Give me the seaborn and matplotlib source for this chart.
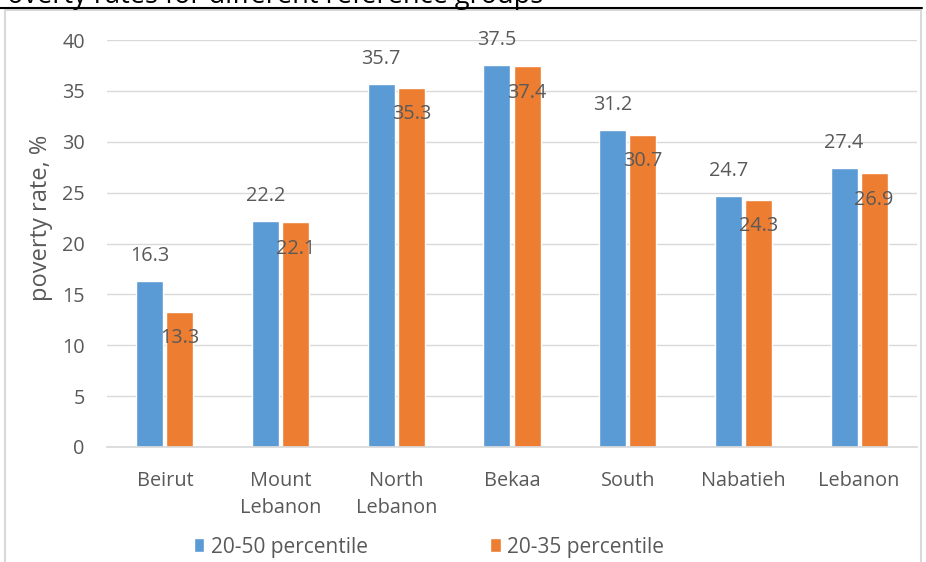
import matplotlib
matplotlib.use("Agg")
import matplotlib.pyplot as plt
import seaborn as sns
import pandas as pd
from matplotlib.patches import Rectangle
from matplotlib.lines import Line2D

regions = ["Beirut", "Mount\nLebanon", "North\nLebanon", "Bekaa", "South", "Nabatieh", "Lebanon"]
rate_20_50 = [16.3, 22.2, 35.7, 37.5, 31.2, 24.7, 27.4]
rate_20_35 = [13.3, 22.1, 35.3, 37.4, 30.7, 24.3, 26.9]
series_names = ["20-50 percentile", "20-35 percentile"]
y_ticks = [0, 5, 10, 15, 20, 25, 30, 35, 40]

df = pd.DataFrame({
    "region": regions * 2,
    "rate": rate_20_50 + rate_20_35,
    "group": [series_names[0]] * len(regions) + [series_names[1]] * len(regions),
})

sns.set_theme(style="white")
plt.rcParams["font.family"] = ["Open Sans", "DejaVu Sans"]
text_color = "#595959"
fs = 14.3

fig = plt.figure(figsize=(9.26, 5.62), dpi=100)
ax = fig.add_axes([107 / 926, 1 - 447 / 562, (917 - 107) / 926, (447 - 40) / 562])

palette = {series_names[0]: "#5B9BD5", series_names[1]: "#ED7D31"}
sns.barplot(data=df, x="region", y="rate", hue="group", palette=palette,
            width=0.52, gap=0.1, saturation=1, ax=ax, legend=True, errorbar=None)

ax.set_ylim(0, 40)
ax.set_yticks(y_ticks)
ax.set_xlim(-0.5, len(regions) - 0.5)
ax.grid(axis="y", color="#D9D9D9", linewidth=1)
ax.set_axisbelow(True)
for s in ["top", "right", "left"]:
    ax.spines[s].set_visible(False)
ax.spines["bottom"].set_color("#D9D9D9")
ax.tick_params(axis="both", colors=text_color, labelsize=fs, length=0)
ax.tick_params(axis="x", pad=17)
for lbl in ax.get_xticklabels():
    lbl.set_linespacing(1.5)
ax.tick_params(axis="y", pad=16)
ax.set_xlabel("")
ax.set_ylabel("poverty rate, %", color=text_color, fontsize=17)
ax.yaxis.set_label_coords((53 - 107) / 810, (447 - 218) / 407)

# value labels: first series above its bar, second series just inside the top
for idx, cont in enumerate(ax.containers[:2]):
    for bar in cont:
        h = bar.get_height()
        dy = 18 if idx == 0 else -19
        ax.annotate(f"{h:.1f}", (bar.get_x() + bar.get_width() / 2, h),
                    xytext=(0, dy), textcoords="offset points",
                    ha="center", va="center", color=text_color, fontsize=fs)

leg = ax.legend(loc="center", bbox_to_anchor=((429 - 107) / 810, -(547 - 447) / 407),
                ncol=2, frameon=False, fontsize=15, handlelength=0.5, handleheight=0.65,
                handletextpad=0.3, columnspacing=5.9)
for t in leg.get_texts():
    t.set_color(text_color)

# outer frame and title band
fig.patches.append(Rectangle((5 / 926, -0.1), (921 - 5) / 926, 1.1 - 10 / 562,
                             transform=fig.transFigure, fill=False,
                             edgecolor="#D9D9D9", linewidth=1.5))
fig.lines.append(Line2D([0, 922 / 926], [1 - 8 / 562, 1 - 8 / 562],
                        transform=fig.transFigure, color="black", linewidth=1.5))
fig.text(-9 / 926, 1 - 3 / 562, "Poverty rates for different reference groups",
         ha="left", va="baseline", fontsize=19.5, color="black")

fig.savefig("out.png", dpi=100)
